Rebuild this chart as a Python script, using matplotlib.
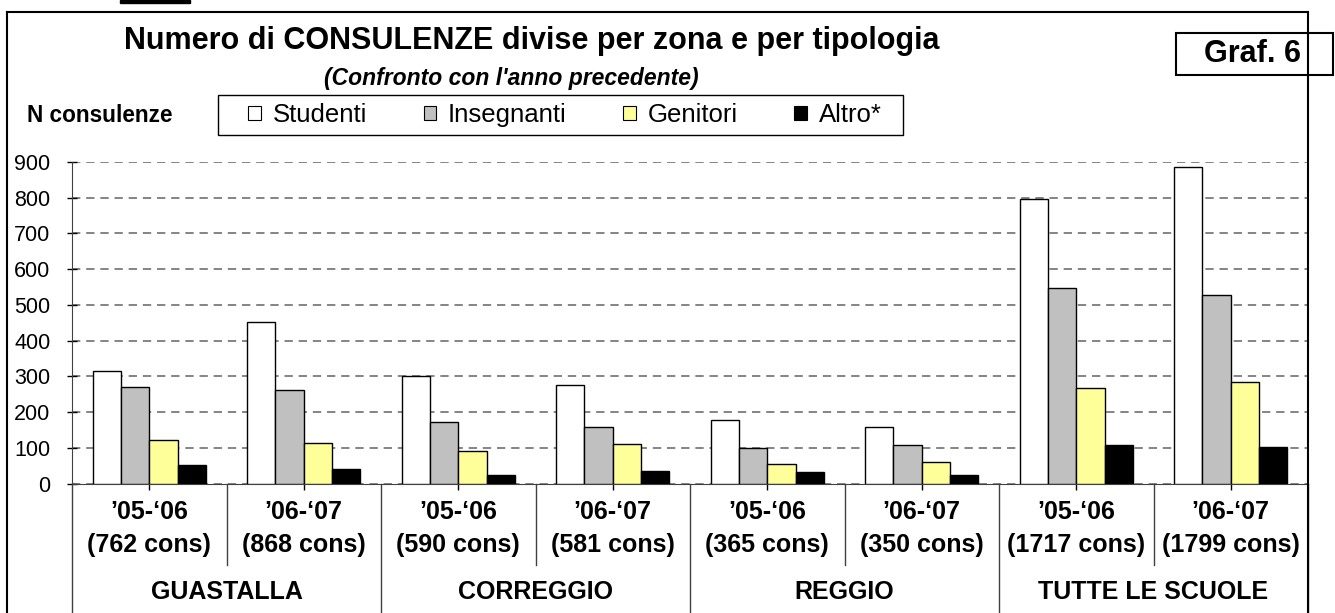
# Numero di consulenze per zona e tipologia (Graf. 6)
import numpy as np
import matplotlib.pyplot as plt
from matplotlib.patches import Patch, Rectangle
from matplotlib.lines import Line2D
import matplotlib.transforms as mtrans

plt.rcParams['font.family'] = ['Liberation Sans', 'DejaVu Sans']

anni = ["\u201905-\u201806", "\u201906-\u201807"] * 4
totali = ["(762 cons)", "(868 cons)", "(590 cons)", "(581 cons)",
          "(365 cons)", "(350 cons)", "(1717 cons)", "(1799 cons)"]
zone = ["GUASTALLA", "CORREGGIO", "REGGIO", "TUTTE LE SCUOLE"]

studenti = [315, 452, 301, 277, 179, 157, 797, 886]
insegnanti = [271, 261, 173, 159, 100, 107, 546, 527]
genitori = [123, 114, 91, 111, 55, 61, 267, 285]
altro = [53, 41, 25, 34, 31, 25, 107, 101]

serie = [("Studenti", studenti, "white"),
         ("Insegnanti", insegnanti, "#c0c0c0"),
         ("Genitori", genitori, "#ffff99"),
         ("Altro*", altro, "black")]

W, H = 1335, 613
fig = plt.figure(figsize=(W / 100, H / 100), dpi=100)
fig.patch.set_facecolor('white')

# plot area in pixels: x 72..1308, y 162..483
ax = fig.add_axes([72 / W, 1 - 483.5 / H, (1308 - 72) / W, (483.5 - 162) / H])

x = np.arange(len(studenti))
bw = 0.183
for i, (nome, vals, col) in enumerate(serie):
    ax.bar(x + (i - 1.5) * bw, vals, bw, color=col, edgecolor='black',
           linewidth=1.0, zorder=3, label=nome)

ax.set_xlim(-0.5, len(x) - 0.5)
ax.set_ylim(0, 900)
ax.set_yticks(np.arange(0, 901, 100))
ax.yaxis.grid(True, color='#707070', linestyle=(0, (5, 3.5)), linewidth=1.2)
ax.set_axisbelow(True)
ax.tick_params(axis='y', direction='inout', length=7, width=1, labelsize=15.5, pad=12)
ax.set_xticks(x)
ax.set_xticklabels([])
ax.tick_params(axis='x', direction='out', length=4, width=1)
for s in ['top', 'right']:
    ax.spines[s].set_visible(False)
ax.spines['left'].set_color('#404040')
ax.spines['bottom'].set_color('#404040')

# category labels under the axis (axes fraction per pixel)
tr = mtrans.blended_transform_factory(ax.transData, ax.transAxes)
ph = 483.5 - 162
for i in range(len(x)):
    ax.text(x[i], -(512 - 483.5) / ph, anni[i], transform=tr, ha='center',
            va='center', fontsize=18, fontweight='bold')
    ax.text(x[i], -(545 - 483.5) / ph, totali[i], transform=tr, ha='center',
            va='center', fontsize=18, fontweight='bold')
for j, z in enumerate(zone):
    ax.text(2 * j + 0.5, -(592 - 483.5) / ph, z, transform=tr, ha='center',
            va='center', fontsize=18, fontweight='bold')

# separators between the categories
for b in np.arange(0.5, len(x) - 1, 2):
    ax.plot([b, b], [0, -(565 - 483.5) / ph], transform=tr, color='#404040',
            lw=1, clip_on=False)
for b in np.arange(-0.5, len(x) + 0.5, 2):
    ax.plot([b, b], [0, -0.45], transform=tr, color='#404040', lw=1, clip_on=False)

# outer frame
fx = lambda p: p / W
fy = lambda p: 1 - p / H
fig.add_artist(Line2D([fx(7), fx(7)], [fy(12), fy(613)], color='black', lw=1.5))
fig.add_artist(Line2D([fx(7), fx(1308)], [fy(12), fy(12)], color='black', lw=1.5))
fig.add_artist(Line2D([fx(1308), fx(1308)], [fy(12), fy(613)], color='black', lw=1.5))
fig.add_artist(Rectangle((fx(120), fy(3)), fx(70), 3 / H, color='black'))

# Graf. 6 box
fig.add_artist(Rectangle((fx(1176), fy(75)), fx(157), 42 / H, facecolor='white',
                         edgecolor='black', lw=1.5))
fig.text(fx(1252), fy(54), "Graf. 6", ha='center', va='center', fontsize=22,
         fontweight='bold')

# titles
fig.text(fx(532), fy(41), "Numero di CONSULENZE divise per zona e per tipologia",
         ha='center', va='center', fontsize=22, fontweight='bold')
fig.text(fx(511), fy(79), "(Confronto con l'anno precedente)", ha='center',
         va='center', fontsize=16.5, fontweight='bold', style='italic')
fig.text(fx(100), fy(116), "N consulenze", ha='center', va='center', fontsize=16.3,
         fontweight='bold')

# legend with its own box
fig.add_artist(Rectangle((fx(218), fy(135)), fx(685), 40 / H, facecolor='white',
                         edgecolor='black', lw=1.0))
handles = [Patch(facecolor=c, edgecolor='black', lw=0.8) for _, _, c in serie]
leg = fig.legend(handles, [s[0] for s in serie], ncol=4, loc='center',
                 bbox_to_anchor=(fx(565), fy(115)), fontsize=18.5, frameon=False,
                 handlelength=0.5, handleheight=0.5, handletextpad=0.45,
                 columnspacing=2.2, borderpad=0.3)

fig.savefig('out.png', dpi=100)
